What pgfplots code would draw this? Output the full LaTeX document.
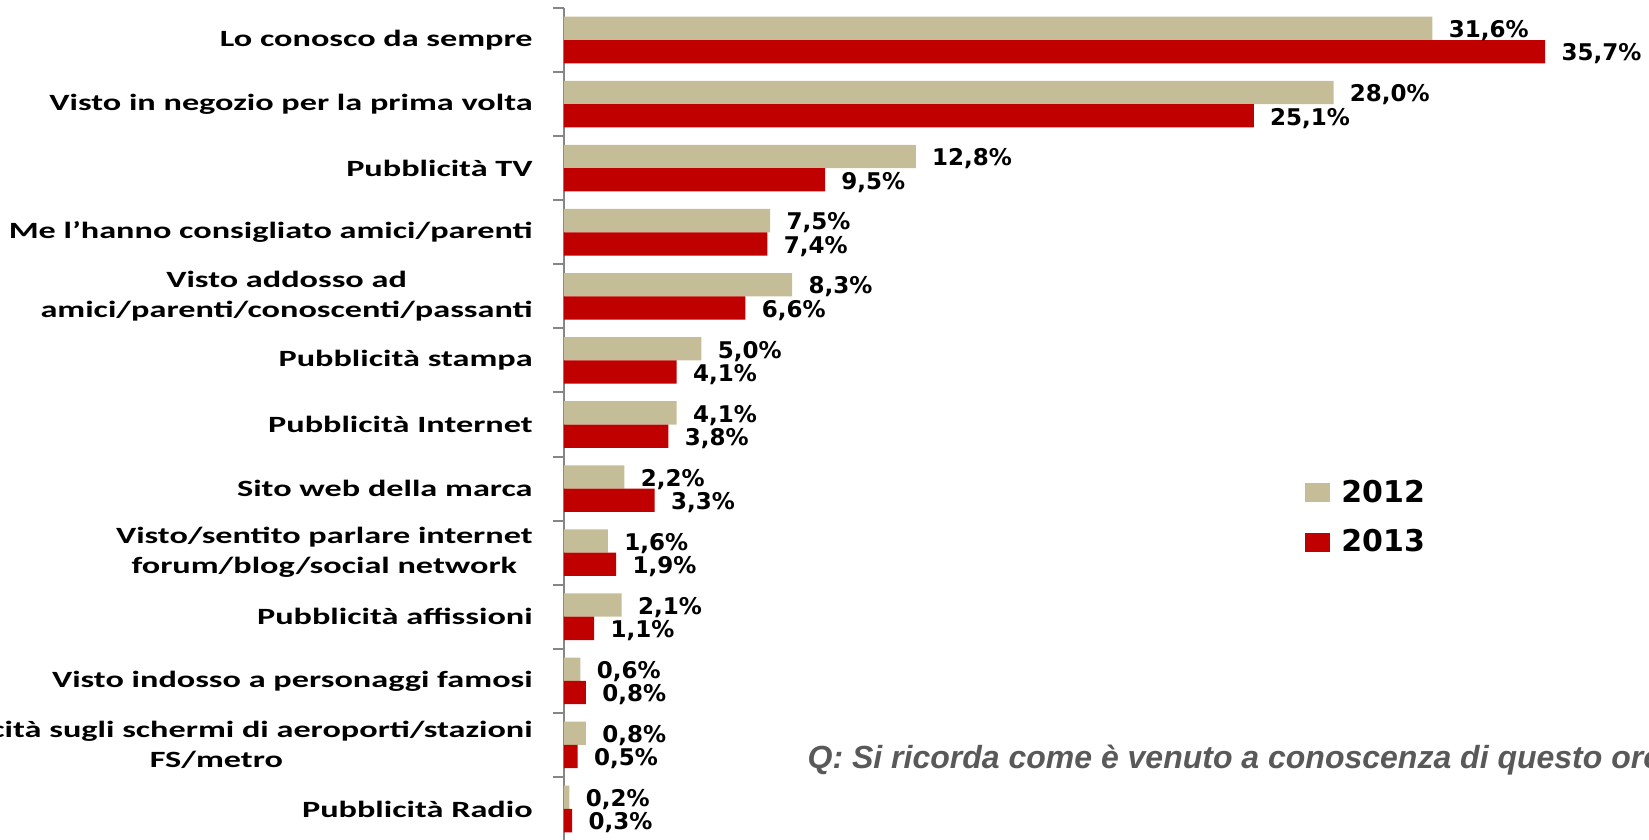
\documentclass[border=0pt]{standalone}
\usepackage{fontspec}
\usepackage{pgfplots}
\pgfplotsset{compat=1.18}
\newfontfamily\catfont{Carlito}[FakeStretch=1.47]
\newfontfamily\valfont{DejaVu Sans}
\newfontfamily\qfont{Liberation Sans}
\definecolor{c2012}{HTML}{C4BD97}
\definecolor{c2013}{HTML}{C00000}
\definecolor{axgray}{HTML}{868686}
\definecolor{qgray}{HTML}{595959}
\begin{document}
\begin{tikzpicture}
\useasboundingbox (0,0) rectangle (824.5pt,420pt);
\clip (0,0) rectangle (824.5pt,420pt);
\begin{axis}[
  at={(282pt,-0.5pt)}, anchor=south west,
  scale only axis, width=542.5pt, height=416.5pt,
  xmin=0, xmax=39.48, ymin=-0.5, ymax=12.5, y dir=reverse,
  xbar=0pt, bar width=11.65pt,
  axis x line=none, axis y line*=left, xtick=\empty,
  axis line style={axgray, line width=1pt},
  ytick={0,1,2,3,4,5,6,7,8,9,10,11,12},
  yticklabels={
    Lo conosco da sempre,
    Visto in negozio per la prima volta,
    Pubblicità TV,
    Me l’hanno consigliato amici/parenti,
    {Visto addosso ad\\amici/parenti/conoscenti/passanti},
    Pubblicità stampa,
    Pubblicità Internet,
    Sito web della marca,
    {Visto/sentito parlare internet\\forum/blog/social network},
    Pubblicità affissioni,
    Visto indosso a personaggi famosi,
    {Pubblicità sugli schermi di aeroporti/stazioni\\FS/metro},
    Pubblicità Radio},
  major tick length=0pt,
  minor ytick={-0.5,0.5,1.5,2.5,3.5,4.5,5.5,6.5,7.5,8.5,9.5,10.5,11.5,12.5},
  minor tick length=5.5pt, tick align=outside,
  minor tick style={axgray, line width=1pt},
  yticklabel style={font=\catfont\bfseries\fontsize{11.65pt}{15pt}\selectfont, align=center, inner sep=0pt, xshift=-15.5pt, text=black},
  nodes near coords={\pgfmathprintnumber[fixed,fixed zerofill,precision=1,use comma,assume math mode=true]{\pgfplotspointmeta}\%},
  nodes near coords align={horizontal},
  every node near coord/.append style={font=\valfont\bfseries\fontsize{11.5pt}{13pt}\selectfont, inner sep=0pt, xshift=8pt, yshift=-1.2pt, text=black},
  legend style={at={(0.6829,0.434)}, anchor=north west, draw=none, fill=none, inner sep=0pt,
    row sep=12.2pt, column sep=5.5pt,
    font=\valfont\bfseries\fontsize{15pt}{18pt}\selectfont, nodes={inner sep=0pt}},
  legend image code/.code={\fill[#1] (0pt,-4.75pt) rectangle (12.5pt,4.75pt);},
  legend cell align=left,
]
\addplot[fill=c2012, draw=none, bar shift=5.825pt] coordinates {
  (31.6,0) (28.0,1) (12.8,2) (7.5,3) (8.3,4) (5.0,5) (4.1,6)
  (2.2,7) (1.6,8) (2.1,9) (0.6,10) (0.8,11) (0.2,12)};
\addplot[fill=c2013, draw=none, bar shift=-5.825pt] coordinates {
  (35.7,0) (25.1,1) (9.5,2) (7.4,3) (6.6,4) (4.1,5) (3.8,6)
  (3.3,7) (1.9,8) (1.1,9) (0.8,10) (0.5,11) (0.3,12)};
\legend{2012,2013}
\end{axis}
\node[anchor=base west, inner sep=0pt, text=qgray, font=\qfont\bfseries\itshape\fontsize{16pt}{19pt}\selectfont] at (403.6pt,35.5pt) {Q: Si ricorda come è venuto a conoscenza di questo orologio?};
\end{tikzpicture}
\end{document}
